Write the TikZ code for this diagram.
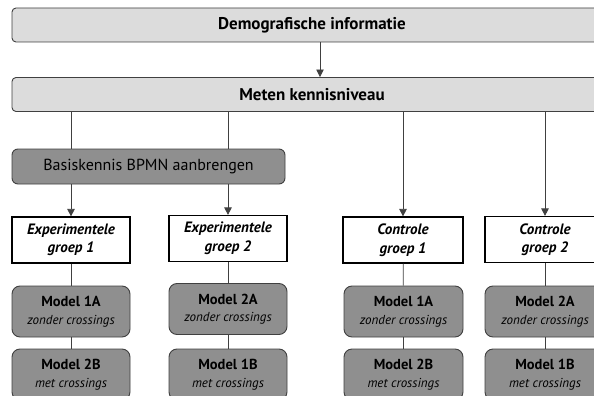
\documentclass[tikz,border=0pt]{standalone}
\usepackage{fontspec}
\setmainfont{PT Sans}
\usetikzlibrary{arrows.meta}

\definecolor{lichtgrijs}{HTML}{DCDCDC}
\definecolor{donkergrijs}{HTML}{8F8F8F}
\definecolor{lijngrijs}{HTML}{404040}

\newcommand{\modeltekst}[2]{{\fontsize{14.5}{18}\selectfont\bfseries #1}\\{\itshape #2}}

\begin{document}
\begin{tikzpicture}[x=1pt,y=-1pt,
	fase/.style={draw=lijngrijs,fill=lichtgrijs,rounded corners=4pt,line width=.9pt,inner sep=0pt,minimum width=600pt,minimum height=34pt,font=\fontsize{17}{20}\selectfont\bfseries},
	training/.style={draw=lijngrijs,fill=donkergrijs,rounded corners=6pt,line width=.9pt,inner sep=0pt,minimum width=273pt,minimum height=35pt,font=\fontsize{16}{19}\selectfont},
	groep/.style={draw=black,fill=white,line width=1.2pt,inner sep=0pt,minimum width=118pt,minimum height=46pt,align=center,font=\fontsize{15}{18.5}\selectfont\bfseries\itshape},
	model/.style={draw=lijngrijs,fill=donkergrijs,rounded corners=8pt,line width=.9pt,inner sep=0pt,minimum width=118pt,minimum height=51pt,align=center,font=\fontsize{13}{17.5}\selectfont},
	lijn/.style={draw=lijngrijs,line width=.8pt},
	pijl/.style={lijn,-{Triangle[width=7.5pt,length=7.5pt]}}
	]
	\useasboundingbox (0,0) rectangle (594,396);
	\clip (0,0) rectangle (594,396);

	% fasen
	\node[fase] (demo) at (312,25) {Demografische informatie};
	\node[fase] (meten) at (312,94.5) {Meten kennisniveau};
	\node[training] (basis) at (148.5,166.5) {Basiskennis BPMN aanbrengen};

	% groepen
	\node[groep] (exp1) at (71,240) {Experimentele\\groep 1};
	\node[groep] (exp2) at (228,238.5) {Experimentele\\groep 2};
	\node[groep,minimum width=120pt] (ctrl1) at (403,240) {Controle\\groep 1};
	\node[groep,minimum width=120pt] (ctrl2) at (545,239.5) {Controle\\groep 2};

	% modellen
	\node[model] (exp1a) at (71,311.5) {\modeltekst{Model 1A}{zonder crossings}};
	\node[model] (exp2a) at (228,309) {\modeltekst{Model 2A}{zonder crossings}};
	\node[model,minimum width=119pt] (ctrl1a) at (403.5,311.5) {\modeltekst{Model 1A}{zonder crossings}};
	\node[model,minimum width=120pt] (ctrl2a) at (545,311.5) {\modeltekst{Model 2A}{zonder crossings}};

	\node[model] (exp1b) at (71,374.5) {\modeltekst{Model 2B}{met crossings}};
	\node[model] (exp2b) at (228,374.5) {\modeltekst{Model 1B}{met crossings}};
	\node[model,minimum width=119pt] (ctrl1b) at (403.5,374.5) {\modeltekst{Model 2B}{met crossings}};
	\node[model,minimum width=120pt] (ctrl2b) at (545,374.5) {\modeltekst{Model 1B}{met crossings}};

	% verbindingen
	\draw[pijl] ([xshift=8pt]demo.south) -- ([xshift=8pt]meten.north);
	\draw[lijn] (meten.south -| exp1) -- (basis.north -| exp1);
	\draw[lijn] (meten.south -| exp2) -- (basis.north -| exp2);
	\draw[pijl] (basis.south -| exp1) -- (exp1);
	\draw[pijl] (basis.south -| exp2) -- (exp2);
	\draw[pijl] (meten.south -| ctrl1) -- (ctrl1);
	\draw[pijl] (meten.south -| ctrl2) -- (ctrl2);
	\foreach \g in {exp1,exp2,ctrl1,ctrl2} {
		\draw[lijn] (\g) -- (\g a);
		\draw[lijn] (\g a) -- (\g b);
	}
\end{tikzpicture}
\end{document}
